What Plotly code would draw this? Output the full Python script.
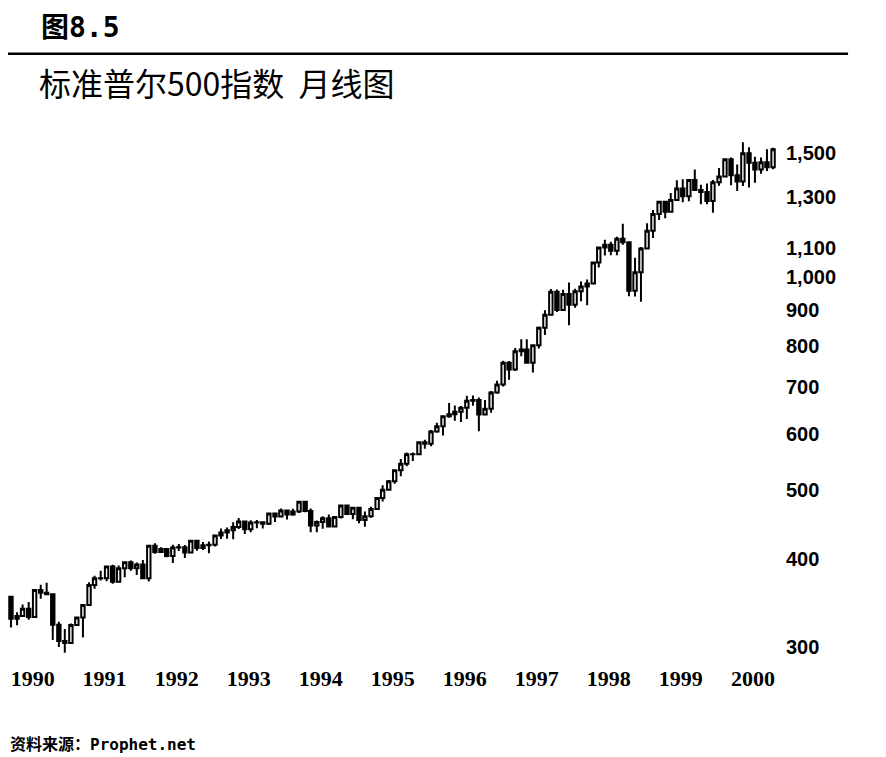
import pandas as pd
import plotly.graph_objects as go

# S&P 500 monthly bars, Jan 1990 - Aug 2000
months = pd.date_range("1990-01-01", periods=128, freq="MS")

opens = [
    353.40, 329.08, 331.89, 339.94, 330.80, 361.23, 358.02, 356.15, 322.56, 306.05, 304.00, 322.22,
    330.22, 343.93, 367.07, 375.22, 375.35, 389.83, 371.16, 387.81, 395.43, 387.86, 392.46, 375.22,
    417.09, 408.79, 412.70, 403.69, 414.95, 415.35, 408.14, 424.21, 414.03, 417.80, 418.68, 431.35,
    435.71, 438.78, 443.38, 451.67, 440.19, 450.19, 450.53, 448.13, 463.56, 458.93, 467.83, 461.79,
    466.45, 481.61, 467.14, 445.77, 450.91, 456.50, 444.27, 458.26, 475.49, 462.69, 472.35, 453.69,
    459.27, 470.42, 487.39, 500.71, 514.71, 533.40, 544.75, 562.06, 561.88, 584.41, 581.50, 605.37,
    615.93, 636.02, 640.43, 645.50, 654.17, 669.12, 670.63, 639.95, 651.99, 687.33, 705.27, 757.02,
    740.74, 786.16, 790.82, 757.12, 801.34, 848.28, 885.14, 954.31, 899.47, 947.28, 914.62, 955.40,
    970.43, 980.28, 1049.34, 1101.75, 1111.75, 1090.82, 1133.84, 1120.67, 957.28, 1017.01, 1098.67, 1163.63,
    1229.23, 1279.64, 1238.33, 1286.37, 1335.18, 1301.84, 1372.71, 1328.72, 1320.41, 1282.71, 1362.93, 1388.91,
    1469.25, 1394.46, 1366.42, 1498.58, 1452.43, 1420.60, 1454.60, 1430.83,
]
highs = [
    354.24, 336.09, 344.49, 347.30, 361.23, 367.40, 369.78, 356.15, 325.83, 318.17, 323.98, 330.22,
    344.22, 370.47, 378.33, 384.58, 389.83, 392.22, 391.31, 396.64, 397.62, 395.11, 398.22, 418.32,
    420.77, 415.23, 413.74, 418.53, 419.73, 418.15, 425.09, 425.09, 422.44, 422.90, 431.52, 441.28,
    442.65, 450.33, 456.74, 452.51, 453.53, 453.85, 451.15, 464.40, 463.85, 470.97, 469.10, 470.75,
    482.85, 482.23, 471.09, 453.11, 459.31, 462.12, 459.27, 477.13, 476.58, 473.77, 473.41, 466.41,
    473.86, 488.98, 508.16, 516.80, 533.91, 553.41, 565.22, 565.26, 586.27, 589.25, 608.42, 622.88,
    637.00, 664.26, 658.79, 657.79, 679.94, 680.50, 675.96, 670.62, 690.88, 714.10, 762.12, 761.75,
    794.67, 817.68, 817.24, 804.13, 851.87, 898.70, 962.62, 961.32, 960.31, 983.12, 963.60, 986.25,
    992.65, 1051.48, 1105.65, 1130.52, 1123.11, 1141.22, 1190.58, 1121.75, 1066.11, 1103.78, 1192.97, 1244.93,
    1280.37, 1283.75, 1316.55, 1371.56, 1375.98, 1374.81, 1420.33, 1352.47, 1357.74, 1373.17, 1427.63, 1473.10,
    1478.00, 1444.55, 1552.87, 1527.19, 1481.51, 1477.26, 1517.32, 1525.21,
]
lows = [
    319.83, 322.10, 331.08, 327.76, 330.80, 351.23, 355.07, 307.06, 300.03, 294.51, 303.33, 321.44,
    309.35, 342.95, 362.58, 372.52, 371.76, 368.57, 370.84, 376.45, 384.47, 379.42, 374.73, 371.36,
    406.49, 407.54, 401.87, 394.50, 410.27, 400.96, 406.68, 410.35, 411.64, 407.26, 416.23, 426.65,
    426.88, 426.32, 440.61, 433.54, 436.13, 441.57, 441.49, 446.33, 450.92, 458.12, 454.36, 459.94,
    464.26, 465.45, 436.16, 435.86, 441.05, 442.88, 444.19, 456.08, 461.46, 454.92, 449.05, 443.71,
    457.20, 468.65, 481.92, 500.14, 510.69, 523.25, 540.71, 550.02, 560.73, 572.13, 576.81, 602.80,
    597.28, 632.97, 627.06, 624.16, 630.26, 658.29, 605.88, 638.40, 643.37, 684.37, 700.56, 716.69,
    737.01, 773.43, 756.13, 733.54, 793.21, 828.84, 885.14, 893.34, 896.45, 855.27, 905.62, 924.92,
    912.83, 980.28, 1032.70, 1074.13, 1074.39, 1074.61, 1112.44, 939.98, 939.71, 923.32, 1098.67, 1136.89,
    1205.46, 1211.89, 1234.51, 1282.56, 1277.31, 1281.44, 1328.72, 1268.37, 1268.88, 1233.70, 1347.74, 1387.38,
    1350.14, 1325.07, 1346.62, 1339.40, 1361.09, 1401.58, 1413.89, 1421.47,
]
closes = [
    329.08, 331.89, 339.94, 330.80, 361.23, 358.02, 356.15, 322.56, 306.05, 304.00, 322.22, 330.22,
    343.93, 367.07, 375.22, 375.35, 389.83, 371.16, 387.81, 395.43, 387.86, 392.46, 375.22, 417.09,
    408.79, 412.70, 403.69, 414.95, 415.35, 408.14, 424.21, 414.03, 417.80, 418.68, 431.35, 435.71,
    438.78, 443.38, 451.67, 440.19, 450.19, 450.53, 448.13, 463.56, 458.93, 467.83, 461.79, 466.45,
    481.61, 467.14, 445.77, 450.91, 456.50, 444.27, 458.26, 475.49, 462.69, 472.35, 453.69, 459.27,
    470.42, 487.39, 500.71, 514.71, 533.40, 544.75, 562.06, 561.88, 584.41, 581.50, 605.37, 615.93,
    636.02, 640.43, 645.50, 654.17, 669.12, 670.63, 639.95, 651.99, 687.33, 705.27, 757.02, 740.74,
    786.16, 790.82, 757.12, 801.34, 848.28, 885.14, 954.31, 899.47, 947.28, 914.62, 955.40, 970.43,
    980.28, 1049.34, 1101.75, 1111.75, 1090.82, 1133.84, 1120.67, 957.28, 1017.01, 1098.67, 1163.63, 1229.23,
    1279.64, 1238.33, 1286.37, 1335.18, 1301.84, 1372.71, 1328.72, 1320.41, 1282.71, 1362.93, 1388.91, 1469.25,
    1394.46, 1366.42, 1498.58, 1452.43, 1420.60, 1454.60, 1430.83, 1517.68,
]

years = [str(y) for y in range(1990, 2001)]
year_ticks = [f"{y}-04-21" for y in years]
price_ticks = [300, 400, 500, 600, 700, 800, 900, 1000, 1100, 1300, 1500]
price_labels = ["300", "400", "500", "600", "700", "800", "900", "1,000", "1,100", "1,300", "1,500"]

fig = go.Figure(go.Candlestick(
    x=months, open=opens, high=highs, low=lows, close=closes,
    increasing=dict(line=dict(color="black", width=2), fillcolor="white"),
    decreasing=dict(line=dict(color="black", width=2), fillcolor="black"),
    whiskerwidth=0,
    showlegend=False,
))

# page body adds an 8px offset, so the figure is 8px smaller on each side
fig.update_layout(
    width=878, height=749,
    margin=dict(l=0, r=108, t=122, b=97),
    paper_bgcolor="white", plot_bgcolor="white",
    boxgap=0.12,
    xaxis=dict(
        type="date", range=["1989-12-17", "2000-08-26"],
        rangeslider=dict(visible=False),
        tickvals=year_ticks, ticktext=years,
        showgrid=False, zeroline=False, showline=False, ticks="",
        ticklabelstandoff=3,
        tickfont=dict(family="Liberation Serif", size=22, color="black", weight="bold"),
    ),
    yaxis=dict(
        type="log", side="right", range=[2.4588, 3.2084],
        tickvals=price_ticks, ticktext=price_labels,
        showgrid=False, zeroline=False, showline=False, ticks="",
        ticklabelstandoff=7,
        tickfont=dict(family="Liberation Sans", size=20, color="black", weight="bold"),
    ),
)

# heading rule
fig.add_shape(type="line", xref="paper", yref="paper",
              x0=-0.004, x1=1.091, y0=1.144, y1=1.144,
              line=dict(color="black", width=2.5))

fig.add_annotation(text="<b>图8.5</b>", xref="paper", yref="paper",
                   x=0.040, y=1.1925, xanchor="left", yanchor="middle", showarrow=False,
                   font=dict(family="DejaVu Sans Mono, Noto Sans CJK SC", size=28, color="black"))
fig.add_annotation(text="标准普尔500指数  月线图", xref="paper", yref="paper",
                   x=0.038, y=1.0906, xanchor="left", yanchor="middle", showarrow=False,
                   font=dict(family="Noto Sans CJK SC", size=32, color="black"))
fig.add_annotation(text="<b>资料来源：Prophet.net</b>", xref="paper", yref="paper",
                   x=0.0, y=-0.1585, xanchor="left", yanchor="middle", showarrow=False,
                   font=dict(family="DejaVu Sans Mono, Noto Sans CJK SC", size=16, color="black"))

fig.write_html("out.html")
